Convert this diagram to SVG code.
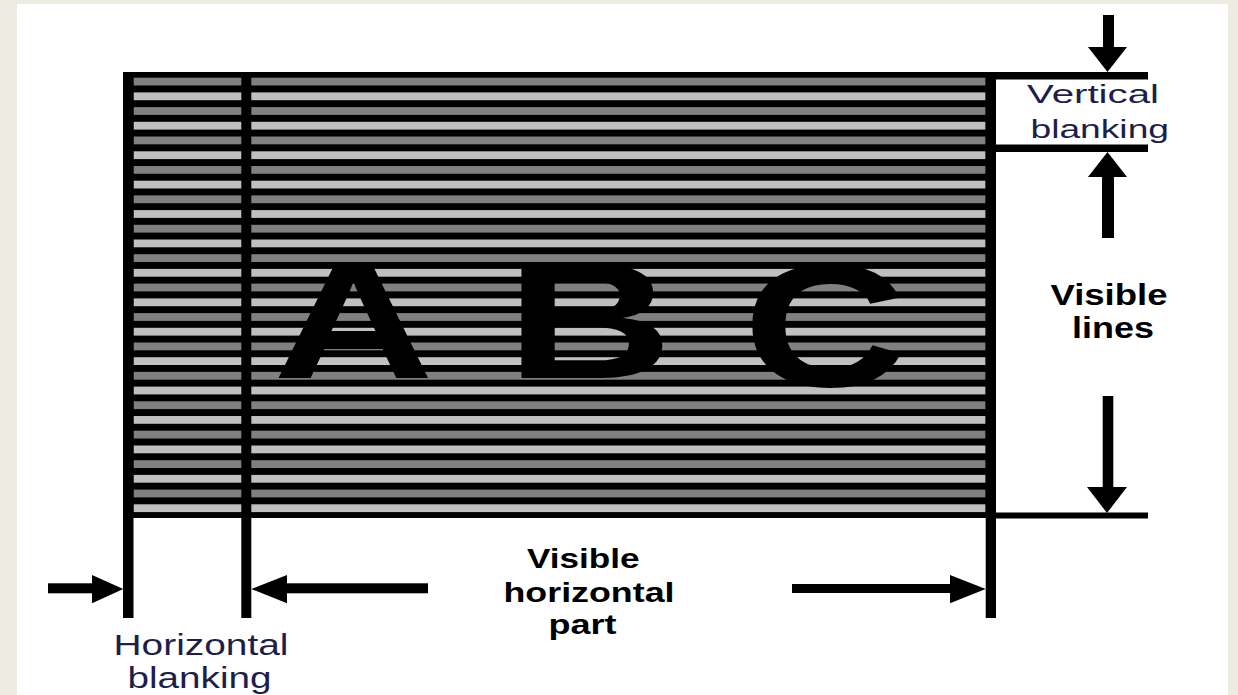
<svg xmlns="http://www.w3.org/2000/svg" width="1238" height="695" viewBox="0 0 1238 695">
  <style>
    .blk { fill: #000000; }
    .d { fill: #808080; }
    .l { fill: #c0c0c0; }
    .lbl { font-family: "Liberation Sans", Arial, sans-serif; fill: #1e1e4a; }
    .lblb { font-family: "Liberation Sans", Arial, sans-serif; font-weight: bold; fill: #000000; }
    .big { font-family: "Liberation Sans", Arial, sans-serif; font-weight: bold; fill: #000000; }
  </style>
  <rect x="0" y="0" width="1238" height="695" fill="#eeebe3"/>
  <rect x="17" y="4" width="1211" height="691" fill="#ffffff"/>

  <g id="screen">
    <rect class="blk" x="123" y="72" width="873" height="446"/>
    <g id="stripes">
      <rect class="d" x="133.5" y="77.7" width="852" height="7.8"/>
      <rect class="l" x="133.5" y="92.4" width="852" height="7.8"/>
      <rect class="d" x="133.5" y="107.1" width="852" height="7.8"/>
      <rect class="l" x="133.5" y="121.8" width="852" height="7.8"/>
      <rect class="d" x="133.5" y="136.5" width="852" height="7.8"/>
      <rect class="l" x="133.5" y="151.3" width="852" height="7.8"/>
      <rect class="d" x="133.5" y="166.0" width="852" height="7.8"/>
      <rect class="l" x="133.5" y="180.7" width="852" height="7.8"/>
      <rect class="d" x="133.5" y="195.4" width="852" height="7.8"/>
      <rect class="l" x="133.5" y="210.1" width="852" height="7.8"/>
      <rect class="d" x="133.5" y="224.8" width="852" height="7.8"/>
      <rect class="l" x="133.5" y="239.5" width="852" height="7.8"/>
      <rect class="d" x="133.5" y="254.2" width="852" height="7.8"/>
      <rect class="l" x="133.5" y="268.9" width="852" height="7.8"/>
      <rect class="d" x="133.5" y="283.6" width="852" height="7.8"/>
      <rect class="l" x="133.5" y="298.4" width="852" height="7.8"/>
      <rect class="d" x="133.5" y="313.1" width="852" height="7.8"/>
      <rect class="l" x="133.5" y="327.8" width="852" height="7.8"/>
      <rect class="d" x="133.5" y="342.5" width="852" height="7.8"/>
      <rect class="l" x="133.5" y="357.2" width="852" height="7.8"/>
      <rect class="d" x="133.5" y="371.9" width="852" height="7.8"/>
      <rect class="l" x="133.5" y="386.6" width="852" height="7.8"/>
      <rect class="d" x="133.5" y="401.3" width="852" height="7.8"/>
      <rect class="l" x="133.5" y="416.0" width="852" height="7.8"/>
      <rect class="d" x="133.5" y="430.7" width="852" height="7.8"/>
      <rect class="l" x="133.5" y="445.5" width="852" height="7.8"/>
      <rect class="d" x="133.5" y="460.2" width="852" height="7.8"/>
      <rect class="l" x="133.5" y="474.9" width="852" height="7.8"/>
      <rect class="d" x="133.5" y="489.6" width="852" height="7.8"/>
      <rect class="l" x="133.5" y="504.3" width="852" height="7.8"/>
    </g>
    <rect class="blk" x="123" y="72" width="10.5" height="546"/>
    <rect class="blk" x="241.3" y="72" width="10" height="546"/>
    <rect class="blk" x="985.7" y="72" width="10.3" height="546"/>
    <text class="big" font-size="165" transform="translate(273,378) scale(1.35,1)">A</text>
    <text class="big" font-size="165" transform="translate(506,378) scale(1.4,1)">B</text>
    <text class="big" font-size="175" transform="translate(743,386) scale(1.3,1)">C</text>
  </g>

  <g id="connectors">
    <rect class="blk" x="996" y="72" width="152" height="7.5"/>
    <rect class="blk" x="996" y="144.5" width="152" height="7.5"/>
    <rect class="blk" x="996" y="512.5" width="152" height="6"/>
    <!-- top down arrow -->
    <rect class="blk" x="1103" y="15" width="11" height="33"/>
    <polygon class="blk" points="1088,47 1127,47 1107.5,72"/>
    <!-- up arrow -->
    <rect class="blk" x="1102" y="175" width="12" height="63"/>
    <polygon class="blk" points="1088,177 1127,177 1107.5,152"/>
    <!-- bottom down arrow -->
    <rect class="blk" x="1102.7" y="396" width="10.6" height="92"/>
    <polygon class="blk" points="1087,487 1127,487 1107,513"/>
    <!-- left blanking arrow -->
    <rect class="blk" x="48" y="583.3" width="45" height="10"/>
    <polygon class="blk" points="92,575 92,603.3 123.3,589"/>
    <!-- left-pointing visible arrow -->
    <rect class="blk" x="285" y="583.3" width="143" height="10"/>
    <polygon class="blk" points="287,575 287,603.3 251.3,589"/>
    <!-- right-pointing visible arrow -->
    <rect class="blk" x="792" y="584" width="160" height="9"/>
    <polygon class="blk" points="950,575 950,603.3 985.7,589"/>
  </g>

  <g id="label-vertical-blanking">
    <text class="lbl" font-size="25" x="1027" y="103" textLength="132" lengthAdjust="spacingAndGlyphs">Vertical</text>
    <text class="lbl" font-size="25" x="1030.5" y="138" textLength="138.5" lengthAdjust="spacingAndGlyphs">blanking</text>
  </g>
  <g id="label-visible-lines">
    <text class="lblb" font-size="29" x="1050.5" y="305" textLength="117" lengthAdjust="spacingAndGlyphs">Visible</text>
    <text class="lblb" font-size="29" x="1072" y="338.3" textLength="82" lengthAdjust="spacingAndGlyphs">lines</text>
  </g>
  <g id="label-visible-horizontal">
    <text class="lblb" font-size="27" x="527" y="568.3" textLength="112.5" lengthAdjust="spacingAndGlyphs">Visible</text>
    <text class="lblb" font-size="27" x="503.5" y="601.7" textLength="171" lengthAdjust="spacingAndGlyphs">horizontal</text>
    <text class="lblb" font-size="27" x="548.5" y="634" textLength="68" lengthAdjust="spacingAndGlyphs">part</text>
  </g>
  <g id="label-horizontal-blanking">
    <text class="lbl" font-size="29" x="113.5" y="655" textLength="175" lengthAdjust="spacingAndGlyphs">Horizontal</text>
    <text class="lbl" font-size="29" x="127.5" y="688" textLength="144" lengthAdjust="spacingAndGlyphs">blanking</text>
  </g>
</svg>
